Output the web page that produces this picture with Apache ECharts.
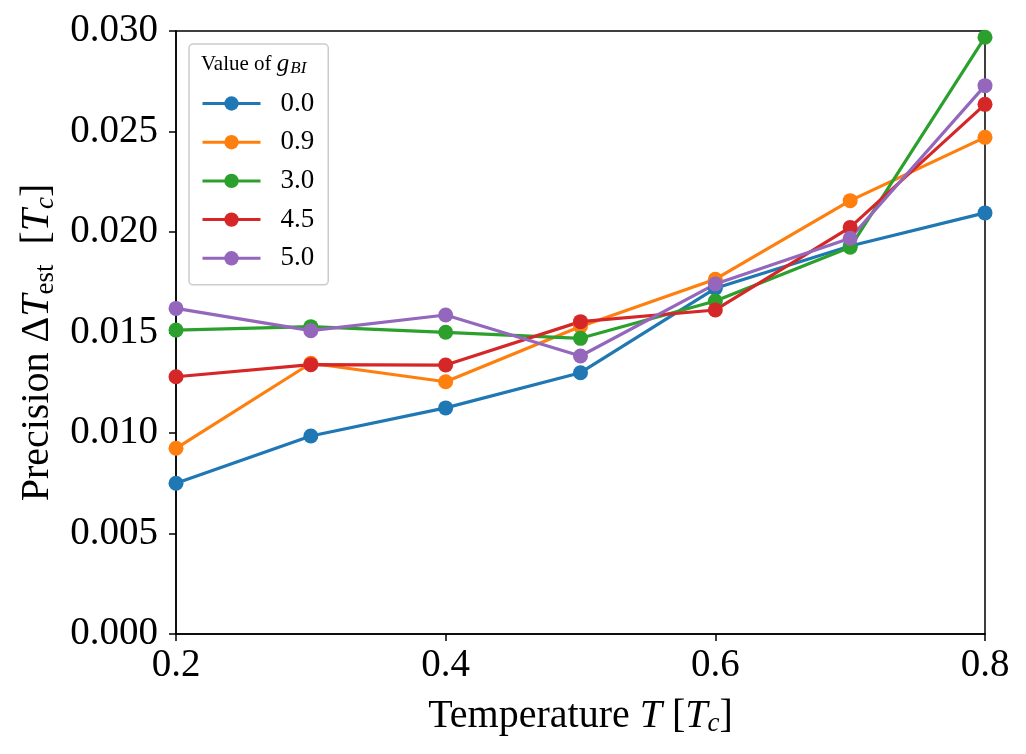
<!DOCTYPE html>
<html>
<head>
<meta charset="utf-8">
<script src="https://cdn.jsdelivr.net/npm/echarts@6/dist/echarts.min.js"></script>
<style>
html,body{margin:0;padding:0;background:#fff;}
#chart{width:1026px;height:754px;}
</style>
</head>
<body>
<div id="chart"></div>
<script>
var temps = [0.2, 0.3, 0.4, 0.5, 0.6, 0.7, 0.8];
var seriesNames = ['0.0', '0.9', '3.0', '4.5', '5.0'];
var g00 = [0.00750, 0.00985, 0.01125, 0.01300, 0.01720, 0.01930, 0.02095];
var g09 = [0.00924, 0.01347, 0.01255, 0.01530, 0.01765, 0.02156, 0.02471];
var g30 = [0.01512, 0.01529, 0.01501, 0.01471, 0.01657, 0.01924, 0.02969];
var g45 = [0.01280, 0.01340, 0.01338, 0.01554, 0.01612, 0.02023, 0.02635];
var g50 = [0.01620, 0.01509, 0.01587, 0.01383, 0.01741, 0.01969, 0.02728];
var allValues = [g00, g09, g30, g45, g50];
var colors = ['#1f77b4', '#ff7f0e', '#2ca02c', '#d62728', '#9467bd'];

var FONT = 'Liberation Serif';

var series = seriesNames.map(function (name, i) {
  return {
    name: name,
    type: 'line',
    data: temps.map(function (t, j) { return [t, allValues[i][j]]; }),
    symbol: 'circle',
    symbolSize: 15,
    showSymbol: true,
    clip: true,
    itemStyle: { color: colors[i] },
    lineStyle: { color: colors[i], width: 3.2 },
    emphasis: { disabled: true },
    animation: false
  };
});

var richName = {
  i: { fontFamily: FONT, fontStyle: 'italic', fontSize: 40, lineHeight: 44 },
  n: { fontFamily: FONT, fontSize: 40, lineHeight: 44 },
  sub: { fontFamily: FONT, fontSize: 27, lineHeight: 30, padding: [16, 0, 0, 0] },
  subi: { fontFamily: FONT, fontStyle: 'italic', fontSize: 27, lineHeight: 30, padding: [16, 0, 0, 0] }
};

var chart = echarts.init(document.getElementById('chart'));
chart.setOption({
  backgroundColor: '#fff',
  animation: false,
  color: colors,
  title: {
    text: '{n|Value of }{i|g}{s|BI}',
    left: 196,
    top: 46,
    z: 20,
    textStyle: {
      fontFamily: FONT,
      fontWeight: 'normal',
      fontSize: 21,
      color: '#000',
      rich: {
        n: { fontFamily: FONT, fontSize: 21, color: '#000', lineHeight: 26 },
        i: { fontFamily: FONT, fontStyle: 'italic', fontSize: 25, color: '#000', lineHeight: 26 },
        s: { fontFamily: FONT, fontStyle: 'italic', fontSize: 17, color: '#000', lineHeight: 18, padding: [10, 0, 0, 1] }
      }
    }
  },
  legend: {
    orient: 'vertical',
    left: 189,
    top: 44,
    padding: [46, 14, 13, 12],
    itemWidth: 58,
    itemHeight: 18,
    itemGap: 11.7,
    backgroundColor: 'rgba(255,255,255,0.8)',
    borderColor: '#cccccc',
    borderWidth: 1.5,
    borderRadius: 4,
    lineStyle: { width: 3 },
    formatter: function (n) { return '{p|' + n + '}'; },
    textStyle: {
      fontFamily: FONT,
      fontSize: 27,
      color: '#000',
      rich: {
        p: { fontFamily: FONT, fontSize: 27, color: '#000', padding: [0, 0, 0, 15] }
      }
    },
    data: seriesNames,
    z: 10
  },
  grid: {
    left: 176,
    right: 41,
    top: 31,
    bottom: 120,
    containLabel: false,
    outerBoundsMode: 'none',
    show: true,
    borderColor: '#000',
    borderWidth: 1.5,
    backgroundColor: 'transparent'
  },
  xAxis: {
    type: 'value',
    min: 0.2,
    max: 0.8,
    interval: 0.2,
    name: '{n|Temperature }{i|T}{n| [}{i|T}{subi|c}{n|]}',
    nameLocation: 'middle',
    nameGap: 60,
    nameTextStyle: { fontFamily: FONT, fontSize: 40, color: '#000', rich: richName },
    axisLine: { show: true, onZero: false, lineStyle: { color: '#000', width: 1.5 } },
    axisTick: { show: true, inside: false, length: 7, lineStyle: { color: '#000', width: 1.5 } },
    axisLabel: {
      fontFamily: FONT, fontSize: 39, color: '#000', margin: 12,
      formatter: function (v) { return v.toFixed(1); }
    },
    splitLine: { show: false }
  },
  yAxis: {
    type: 'value',
    min: 0,
    max: 0.03,
    interval: 0.005,
    name: '{n|Precision Δ}{i|T}{sub|est}{n|  [}{i|T}{subi|c}{n|]}',
    nameLocation: 'middle',
    nameRotate: 90,
    nameGap: 110,
    nameTextStyle: { fontFamily: FONT, fontSize: 40, color: '#000', rich: richName, padding: [0, 20, 0, 0] },
    axisLine: { show: true, onZero: false, lineStyle: { color: '#000', width: 1.5 } },
    axisTick: { show: true, inside: false, length: 7, lineStyle: { color: '#000', width: 1.5 } },
    axisLabel: {
      fontFamily: FONT, fontSize: 39, color: '#000', margin: 18,
      formatter: function (v) { return v.toFixed(3); }
    },
    splitLine: { show: false }
  },
  series: series
});
</script>
</body>
</html>
